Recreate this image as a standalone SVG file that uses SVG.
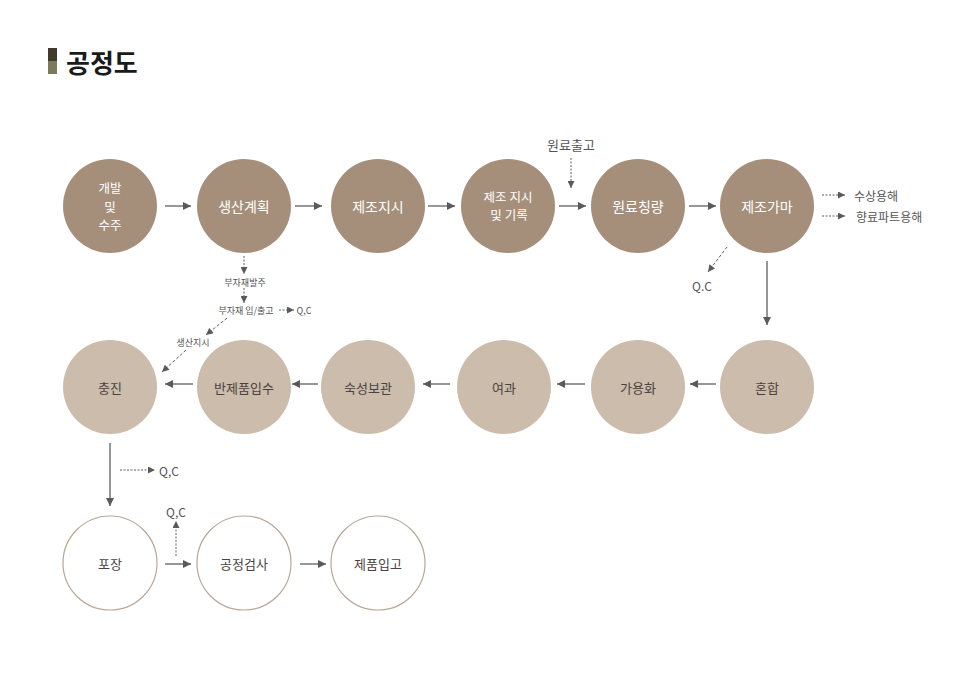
<svg xmlns="http://www.w3.org/2000/svg" width="960" height="678" viewBox="0 0 960 678">
<defs>
<marker id="ah" viewBox="0 0 10 10" refX="10" refY="5" markerWidth="9" markerHeight="8" markerUnits="userSpaceOnUse" orient="auto">
<path d="M0,0 L10,5 L0,10 Z" fill="#5a5a5a"/>
</marker>
<marker id="ahs" viewBox="0 0 10 10" refX="10" refY="5" markerWidth="8" markerHeight="7" markerUnits="userSpaceOnUse" orient="auto">
<path d="M0,0 L10,5 L0,10 Z" fill="#5a5a5a"/>
</marker>
</defs>
<style>
text{font-family:"Noto Sans CJK KR","Noto Sans",sans-serif;text-anchor:middle;dominant-baseline:central}
.n1{fill:#a58f7b}
.n2{fill:#cbbcac}
.n3{fill:#ffffff;stroke:#b9a797;stroke-width:1.2}
.t1{fill:#ffffff;font-size:14px}
.tm{fill:#ffffff;font-size:12.5px}
.t2{fill:#4a4242;font-size:13px}
.ln{stroke:#5f5f5f;stroke-width:1.3;fill:none;marker-end:url(#ah)}
.dl{stroke:#5f5f5f;stroke-width:1;fill:none;stroke-dasharray:2,1.5;marker-end:url(#ahs)}
.dd{stroke:#5f5f5f;stroke-width:1;fill:none;stroke-dasharray:3,2;marker-end:url(#ahs)}
.lb{fill:#555555;font-size:12px}
.sm{fill:#555555;font-size:9px}
</style>
<rect width="960" height="678" fill="#ffffff"/>
<g id="title">
<rect x="48" y="48" width="9" height="13" fill="#433a2c"/>
<rect x="48" y="61" width="9" height="13" fill="#7c7a5c"/>
<text x="66" y="61" style="text-anchor:start;font-size:26px;font-weight:bold;fill:#1a1a1a">공정도</text>
</g>
<g id="n-devel"><circle class="n1" cx="110" cy="206" r="47"/><text class="tm" x="110" y="187.5">개발</text><text class="tm" x="110" y="206">및</text><text class="tm" x="110" y="224.5">수주</text></g>
<g id="n-plan"><circle class="n1" cx="244" cy="206" r="47"/><text class="t1" x="244" y="206">생산계획</text></g>
<g id="n-order"><circle class="n1" cx="378" cy="206" r="47"/><text class="t1" x="378" y="206">제조지시</text></g>
<g id="n-record"><circle class="n1" cx="508" cy="206" r="47"/><text class="tm" x="508" y="196">제조 지시</text><text class="tm" x="509" y="214.5">및 기록</text></g>
<g id="n-weigh"><circle class="n1" cx="638" cy="206" r="47"/><text class="t1" x="638" y="206">원료칭량</text></g>
<g id="n-kettle"><circle class="n1" cx="767" cy="206" r="47"/><text class="t1" x="767" y="206">제조가마</text></g>
<g id="n-mix"><circle class="n2" cx="767" cy="387" r="47"/><text class="t2" x="767" y="387">혼합</text></g>
<g id="n-solub"><circle class="n2" cx="638" cy="387" r="47"/><text class="t2" x="638" y="387">가용화</text></g>
<g id="n-filter"><circle class="n2" cx="504" cy="387" r="47"/><text class="t2" x="504" y="387">여과</text></g>
<g id="n-aging"><circle class="n2" cx="368" cy="387" r="47"/><text class="t2" x="368" y="387">숙성보관</text></g>
<g id="n-semi"><circle class="n2" cx="244" cy="387" r="47"/><text class="t2" x="244" y="387">반제품입수</text></g>
<g id="n-fill"><circle class="n2" cx="110" cy="387" r="47"/><text class="t2" x="110" y="387">충진</text></g>
<g id="n-pack"><circle class="n3" cx="110" cy="563" r="47"/><text class="t2" x="110" y="563">포장</text></g>
<g id="n-inspect"><circle class="n3" cx="244" cy="563" r="47"/><text class="t2" x="244" y="563">공정검사</text></g>
<g id="n-store"><circle class="n3" cx="378" cy="563" r="47"/><text class="t2" x="378" y="563">제품입고</text></g>
<g id="connectors">
<line class="ln" x1="165" y1="206" x2="191" y2="206"/>
<line class="ln" x1="295" y1="206" x2="322" y2="206"/>
<line class="ln" x1="428" y1="206" x2="455" y2="206"/>
<line class="ln" x1="559" y1="206" x2="586" y2="206"/>
<line class="ln" x1="689" y1="206" x2="716" y2="206"/>
<line class="ln" x1="767" y1="261" x2="767" y2="325"/>
<line class="ln" x1="716" y1="384" x2="690" y2="384"/>
<line class="ln" x1="585" y1="384" x2="557" y2="384"/>
<line class="ln" x1="450" y1="384" x2="423" y2="384"/>
<line class="ln" x1="318" y1="384" x2="292" y2="384"/>
<line class="ln" x1="193" y1="384" x2="165" y2="384"/>
<line class="ln" x1="110" y1="443" x2="110" y2="506"/>
<line class="ln" x1="165" y1="564" x2="191" y2="564"/>
<line class="ln" x1="300" y1="564" x2="326" y2="564"/>
<line class="dl" x1="571" y1="158" x2="571" y2="188"/>
<line class="dl" x1="822" y1="195" x2="845" y2="195"/>
<line class="dl" x1="822" y1="216" x2="845" y2="216"/>
<line class="dd" x1="727" y1="247" x2="708" y2="272"/>
<line class="dl" x1="244" y1="256" x2="244" y2="274"/>
<line class="dl" x1="244" y1="288" x2="244" y2="303"/>
<line class="dl" x1="279" y1="310" x2="294" y2="310"/>
<line class="dd" x1="227" y1="318" x2="206" y2="335"/>
<line class="dd" x1="186" y1="350" x2="162" y2="372"/>
<line class="dl" x1="120" y1="470" x2="155" y2="470"/>
<line class="dl" x1="176" y1="556" x2="176" y2="521"/>
</g>
<g id="labels">
<text class="lb" x="571" y="144" style="font-size:13px">원료출고</text>
<text class="lb" x="854" y="195" style="text-anchor:start">수상용해</text>
<text class="lb" x="856" y="216" style="text-anchor:start">향료파트용해</text>
<text class="lb" x="702" y="285">Q.C</text>
<text class="sm" x="245" y="282">부자재발주</text>
<text class="sm" x="246" y="310">부자재 입/출고</text>
<text class="sm" x="304" y="310">Q,C</text>
<text class="sm" x="193" y="342">생산지시</text>
<text class="lb" x="169" y="470">Q,C</text>
<text class="lb" x="176" y="511">Q,C</text>
</g>
</svg>
